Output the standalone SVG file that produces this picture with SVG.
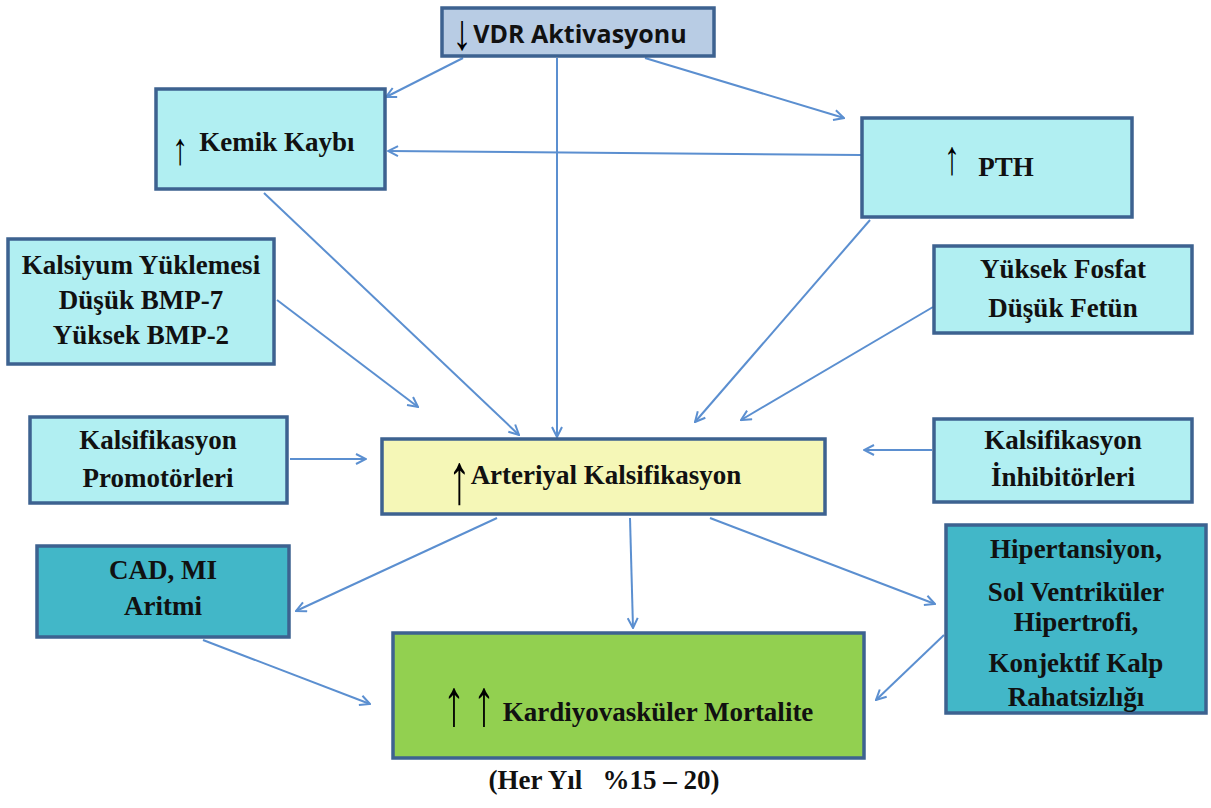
<svg xmlns="http://www.w3.org/2000/svg" width="1211" height="808" viewBox="0 0 1211 808">
<defs>
<marker id="ah" viewBox="0 0 12 12" refX="11" refY="6" markerWidth="12" markerHeight="12" markerUnits="userSpaceOnUse" orient="auto">
<path d="M1,1 L11,6 L1,11" fill="none" stroke="#5b8fd0" stroke-width="2"/>
</marker>
<style>
.box{stroke:#3d6290;stroke-width:3.5}
.c1{fill:#b1eff2}
.t{font-family:'Liberation Serif','DejaVu Serif','Times New Roman',serif;font-weight:bold;font-size:27px;fill:#111;text-anchor:middle}
.ar{font-family:'Liberation Serif','DejaVu Serif',serif;font-weight:bold;fill:#000}
.cn line{stroke:#5b8fd0;stroke-width:2;marker-end:url(#ah)}
</style>
</defs>
<rect width="1211" height="808" fill="#fff"/>
<g class="cn">
<line x1="463" y1="58" x2="386" y2="97"/>
<line x1="557" y1="58" x2="557" y2="437"/>
<line x1="645" y1="58" x2="844" y2="118"/>
<line x1="861" y1="155" x2="388" y2="151"/>
<line x1="264" y1="193" x2="519" y2="435"/>
<line x1="870" y1="220" x2="695" y2="422"/>
<line x1="277" y1="300" x2="418" y2="407"/>
<line x1="933" y1="307" x2="741" y2="420"/>
<line x1="290" y1="459" x2="366" y2="459"/>
<line x1="932" y1="450" x2="864" y2="450"/>
<line x1="497" y1="518" x2="296" y2="611"/>
<line x1="630" y1="518" x2="633" y2="628"/>
<line x1="710" y1="518" x2="935" y2="604"/>
<line x1="203" y1="640" x2="370" y2="704"/>
<line x1="944" y1="635" x2="876" y2="700"/>
</g>
<g id="vdr">
<rect class="box" x="442" y="8" width="272" height="48" fill="#b8cce4"/>
<text transform="translate(452,49) scale(1.1,1.4)" class="ar" font-size="36">↓</text>
<text x="580" y="43" font-family="'Open Sans','Liberation Sans',sans-serif" font-weight="bold" font-size="25" fill="#111" text-anchor="middle">VDR Aktivasyonu</text>
</g>
<g id="kemik">
<rect class="box c1" x="156" y="89" width="229" height="100"/>
<text transform="translate(172,164) scale(1.1,1.5)" class="ar" font-size="30">↑</text>
<text x="277" y="151" class="t">Kemik Kaybı</text>
</g>
<g id="pth">
<rect class="box c1" x="862" y="118" width="270" height="99"/>
<text transform="translate(944,174) scale(1,1.5)" class="ar" font-size="32">↑</text>
<text x="1006" y="176" class="t">PTH</text>
</g>
<g id="kalsiyum">
<rect class="box c1" x="8" y="239" width="266" height="125"/>
<text x="141" y="274" class="t">Kalsiyum Yüklemesi</text>
<text x="141" y="309" class="t">Düşük BMP-7</text>
<text x="141" y="344" class="t">Yüksek BMP-2</text>
</g>
<g id="fosfat">
<rect class="box c1" x="934" y="246" width="258" height="87"/>
<text x="1063" y="278" class="t">Yüksek Fosfat</text>
<text x="1063" y="317" class="t">Düşük Fetün</text>
</g>
<g id="promotor">
<rect class="box c1" x="30" y="417" width="257" height="86"/>
<text x="158" y="449" class="t">Kalsifikasyon</text>
<text x="158" y="487" class="t">Promotörleri</text>
</g>
<g id="arterial">
<rect class="box" x="382" y="439" width="443" height="75" fill="#f5f7b7"/>
<text transform="translate(448,503) scale(1,1.55)" class="ar" font-size="46">↑</text>
<text x="606" y="484" class="t">Arteriyal Kalsifikasyon</text>
</g>
<g id="inhibitor">
<rect class="box c1" x="934" y="419" width="258" height="83"/>
<text x="1063" y="449" class="t">Kalsifikasyon</text>
<text x="1063" y="486" class="t">İnhibitörleri</text>
</g>
<g id="cad">
<rect class="box" x="37" y="546" width="252" height="91" fill="#42b7c8"/>
<text x="163" y="579" class="t">CAD, MI</text>
<text x="163" y="615" class="t">Aritmi</text>
</g>
<g id="hiper">
<rect class="box" x="946" y="525" width="260" height="188" fill="#42b7c8"/>
<text x="1076" y="558" class="t">Hipertansiyon,</text>
<text x="1076" y="601" class="t">Sol Ventriküler</text>
<text x="1076" y="631" class="t">Hipertrofi,</text>
<text x="1076" y="672" class="t">Konjektif Kalp</text>
<text x="1076" y="706" class="t">Rahatsizlığı</text>
</g>
<g id="kardiyo">
<rect class="box" x="393" y="633" width="471" height="125" fill="#92d050"/>
<text transform="translate(443,725) scale(1,1.5)" class="ar" font-size="44">↑</text>
<text transform="translate(473,725) scale(1,1.5)" class="ar" font-size="44">↑</text>
<text x="658" y="721" class="t">Kardiyovasküler Mortalite</text>
</g>
<text x="604" y="789" class="t" xml:space="preserve" style="white-space:pre">(Her Yıl   %15 – 20)</text>
</svg>
